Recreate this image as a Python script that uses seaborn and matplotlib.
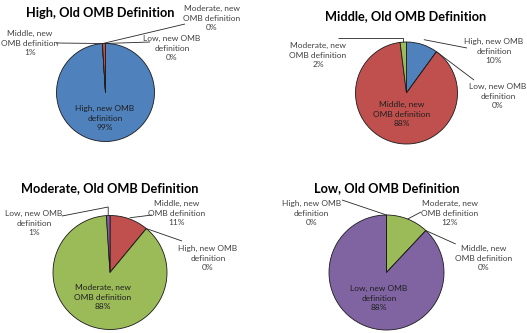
import matplotlib
matplotlib.use("Agg")
import matplotlib.pyplot as plt
import numpy as np
import seaborn as sns

sns.set_theme(style="white")
plt.rcParams["font.family"] = ["Lato", "DejaVu Sans"]

# Share of each old-definition income group that falls in each new-definition group (%)
titles = [
    "High, Old OMB Definition",
    "Middle, Old OMB Definition",
    "Moderate, Old OMB Definition",
    "Low, Old OMB Definition",
]
high_old_groups = ["High", "Low", "Moderate", "Middle"]
high_old_shares = [99, 0, 0, 1]
middle_old_groups = ["High", "Low", "Middle", "Moderate"]
middle_old_shares = [10, 0, 88, 2]
moderate_old_groups = ["Middle", "High", "Moderate", "Low"]
moderate_old_shares = [11, 0, 88, 1]
low_old_groups = ["Moderate", "Middle", "Low", "High"]
low_old_shares = [12, 0, 88, 0]

group_names = ["High", "Middle", "Moderate", "Low"]
group_label_text = {
    "High": "High, new OMB\ndefinition",
    "Low": "Low, new OMB\ndefinition",
    "Middle": "Middle, new\nOMB definition",
    "Moderate": "Moderate, new\nOMB definition",
}

palette = sns.color_palette(["#4F81BD", "#C0504D", "#9BBB59", "#8064A2"])
group_colors = dict(zip(group_names, palette))

W, H = 527, 333

# Layout in pixel units (y measured from the top edge)
layout = [
    dict(center=(105.5, 92.5), r=49, title=(100, 13),
         labels={
             "High": dict(pos=(105, 118), inside=True),
             "Middle": dict(pos=(30, 43), end=(56, 43), rf=1.0),
             "Moderate": dict(pos=(212, 18), end=(185, 24), rf=1.0),
             "Low": dict(pos=(172, 48), end=(150, 42), rf=1.0),
         }),
    dict(center=(406.5, 93), r=51, title=(406, 16),
         labels={
             "Middle": dict(pos=(402, 114), inside=True),
             "High": dict(pos=(494, 51), end=(467, 48), rf=1.1),
             "Low": dict(pos=(498, 96), end=(474, 80), rf=1.0),
             "Moderate": dict(pos=(318, 55), end=(338, 38), rf=1.0, elbow=38),
         }),
    dict(center=(110, 272.5), r=57, title=(110, 188),
         labels={
             "Moderate": dict(pos=(103, 297), inside=True),
             "Middle": dict(pos=(177, 213), end=(152, 215), rf=1.02),
             "High": dict(pos=(208, 258), end=(182, 241), rf=1.0),
             "Low": dict(pos=(34, 223), end=(62, 216), rf=1.0, elbow=207),
         }),
    dict(center=(386.5, 272.5), r=57.5, title=(386.5, 188),
         labels={
             "Low": dict(pos=(379, 298), inside=True),
             "Moderate": dict(pos=(450, 213), end=(421, 212), rf=1.0),
             "Middle": dict(pos=(484, 258), end=(455.7, 244), rf=1.0),
             "High": dict(pos=(311.5, 213), end=(342, 200), rf=1.0),
         }),
]

panel_groups = [high_old_groups, middle_old_groups, moderate_old_groups, low_old_groups]
panel_shares = [high_old_shares, middle_old_shares, moderate_old_shares, low_old_shares]

fig = plt.figure(figsize=(W / 100, H / 100), dpi=100)
fig.patch.set_facecolor("white")
ax = fig.add_axes([0, 0, 1, 1])

label_color = "#404040"
inside_color = "#1F1F1F"
line_color = "#262626"
label_size = 6.0


def Y(y):
    return H - y


for title, groups, shares, lay in zip(titles, panel_groups, panel_shares, layout):
    cx, cy = lay["center"]
    r = lay["r"]
    wedges, _ = ax.pie(
        shares,
        colors=[group_colors[g] for g in groups],
        startangle=90,
        counterclock=False,
        center=(cx, Y(cy)),
        radius=r,
        frame=True,
        wedgeprops=dict(edgecolor="#1a1a1a", linewidth=0.6),
    )
    ax.text(lay["title"][0], Y(lay["title"][1]), title, ha="center", va="center",
            fontsize=9.2, fontweight="bold", color="black")

    for g, v, w in zip(groups, shares, wedges):
        spec = lay["labels"][g]
        txt = f"{group_label_text[g]}\n{v}%"
        lx, ly = spec["pos"]
        ax.text(lx, Y(ly), txt, ha="center", va="center", multialignment="center",
                fontsize=label_size, linespacing=1.4,
                color=inside_color if spec.get("inside") else label_color)
        if spec.get("inside"):
            continue
        mid = np.deg2rad((w.theta1 + w.theta2) / 2)
        ax_x = cx + r * spec["rf"] * np.cos(mid)
        ax_y = Y(cy) + r * spec["rf"] * np.sin(mid)
        ex, ey = spec["end"]
        if "elbow" in spec:
            xs = [ex, ax_x, ax_x]
            ys = [Y(ey), Y(spec["elbow"]), ax_y]
        else:
            xs = [ex, ax_x]
            ys = [Y(ey), ax_y]
        ax.plot(xs, ys, color=line_color, linewidth=0.6, solid_capstyle="butt")

ax.set_xlim(0, W)
ax.set_ylim(0, H)
ax.set_aspect("equal")
ax.axis("off")

fig.savefig("out.png", dpi=100, facecolor="white")
